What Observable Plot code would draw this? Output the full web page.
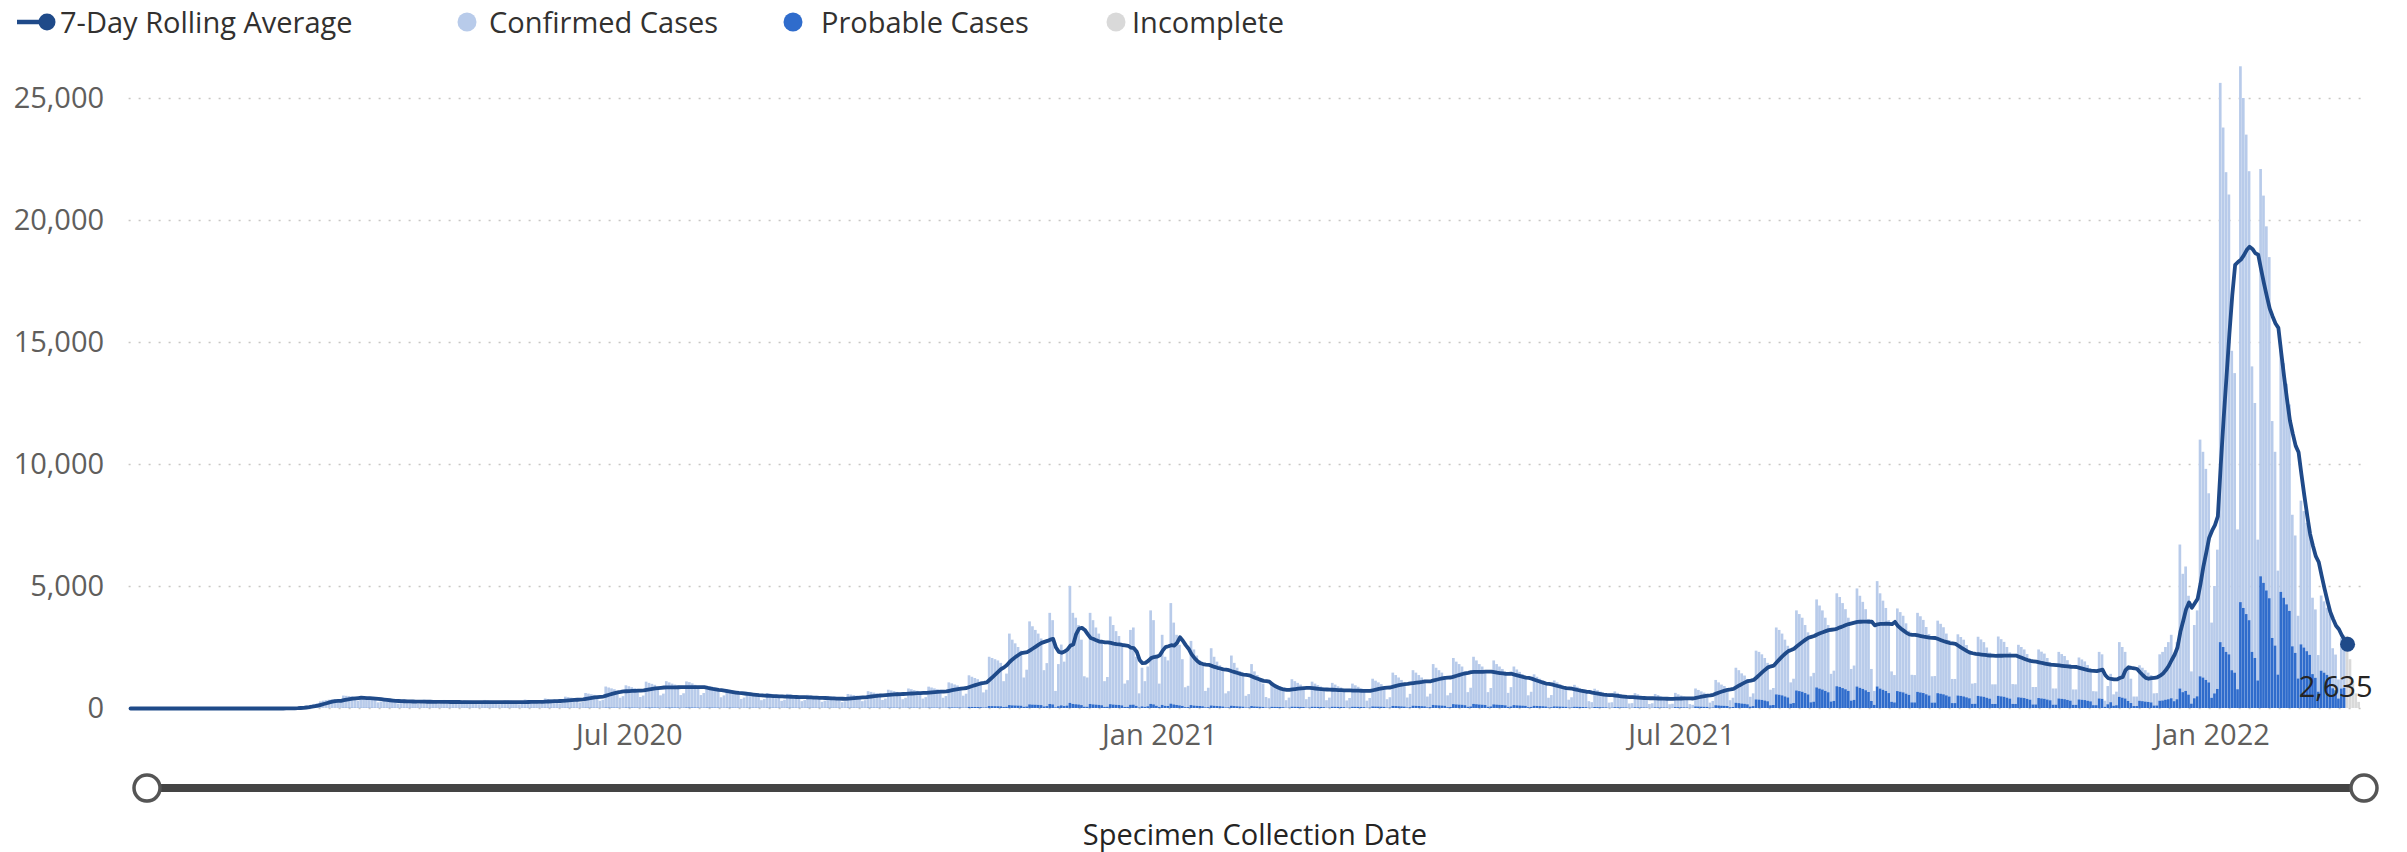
<!DOCTYPE html>
<html>
<head>
<meta charset="utf-8">
<script src="https://cdn.jsdelivr.net/npm/d3@7"></script>
<script src="https://cdn.jsdelivr.net/npm/@observablehq/plot@0.6"></script>
<style>
  body { margin: 0; background: #fff; font-family: "Open Sans", sans-serif; }
  #page { position: relative; width: 2407px; height: 852px; overflow: hidden; }
  #legend { position: relative; height: 46px; }
  .lg-mark { position: absolute; top: 0; }
  .lg-text { position: absolute; top: 0; height: 46px; line-height: 44px; font-size: 29px; color: #323130; white-space: nowrap; }
  #chart { height: 714px; }
  #slider { height: 58px; }
  #xtitle { height: 34px; line-height: 32px; font-size: 29px; color: #252423; position: relative; }
  #xtitle span { position: absolute; left: 1255px; transform: translateX(-50%); white-space: nowrap; }
</style>
</head>
<body>
<div id="page">
  <div id="legend"></div>
  <div id="chart"></div>
  <div id="slider"></div>
  <div id="xtitle"><span>Specimen Collection Date</span></div>
</div>
<script>
// ---------------- DATA ----------------
const startDate = "2020-01-10"; // first day of the series
// All cases per specimen-collection day (top of each stacked bar = confirmed + probable)
const allCases = [
  0,0,0,0,
  0,0,0,0,0,0,0,
  0,0,0,0,0,0,0,
  0,0,0,0,0,0,0,
  0,0,0,0,0,0,0,
  0,0,0,0,0,0,0,
  0,0,0,0,0,0,0,
  0,0,0,1,0,0,2,
  3,6,10,15,22,30,54,
  70,90,110,140,170,200,270,
  300,320,340,350,360,230,270,
  510,500,490,480,450,300,350,
  475,455,440,415,380,230,265,
  375,360,345,330,300,180,210,
  350,335,320,310,280,170,195,
  340,325,310,295,270,160,190,
  330,320,305,290,265,160,185,
  325,310,300,285,260,155,185,
  330,315,295,285,255,155,185,
  320,315,300,290,260,150,185,
  345,330,315,300,275,165,195,
  390,370,355,340,310,190,215,
  465,445,425,405,370,225,255,
  615,590,565,540,490,295,335,
  880,840,805,770,700,420,485,
  930,890,850,810,740,450,510,
  1080,1030,990,950,860,520,590,
  1100,1050,1000,960,880,530,605,
  1090,1060,1010,950,870,530,615,
  920,880,845,810,735,440,515,
  770,740,705,675,615,370,430,
  665,635,610,585,530,320,365,
  615,590,565,540,490,295,335,
  580,560,535,510,465,280,325,
  540,515,495,475,430,255,300,
  495,475,455,435,395,240,277,
  575,550,530,505,460,280,320,
  690,660,630,605,550,330,385,
  750,720,690,660,600,360,420,
  800,770,735,705,640,385,445,
  875,840,805,770,700,420,490,
  1050,1010,965,925,840,505,585,
  1340,1280,1230,1180,1070,640,750,
  2100,2050,2000,1950,1850,1100,1410,
  3050,2800,2650,2500,2350,1250,1570,
  3550,3350,3200,3050,2850,1550,1840,
  3900,3600,700,1800,2600,1900,2440,
  5000,3900,3700,3400,2800,1300,1250,
  3900,3600,3300,3050,2750,1100,1270,
  3750,3400,3150,2950,2600,1000,1140,
  3200,3300,2100,600,1650,1100,1700,
  4000,3600,2200,1000,3000,2100,1950,
  4300,3500,3000,2590,2000,850,910,
  2750,2400,2150,1950,1750,700,830,
  2450,2100,1900,1750,1500,600,690,
  2150,1850,1650,1500,1300,500,570,
  1800,1500,1350,1200,1000,450,400,
  1060,990,930,870,760,320,425,
  1180,1100,1030,960,850,360,456,
  1080,1000,940,880,780,320,425,
  1030,960,890,840,740,310,410,
  1000,930,870,810,720,300,410,
  1200,1120,1050,980,870,360,440,
  1450,1350,1250,1150,1000,430,580,
  1550,1450,1350,1250,1150,470,585,
  1800,1650,1550,1450,1300,520,620,
  2050,1900,1800,1700,1500,650,830,
  2100,1950,1800,1700,1550,650,820,
  1950,1800,1700,1600,1450,620,855,
  1700,1580,1480,1380,1250,520,665,
  1380,1280,1200,1120,1000,420,530,
  1130,1050,980,910,820,340,440,
  950,870,800,750,660,280,240,
  790,730,670,620,550,220,235,
  680,620,570,530,470,185,200,
  610,560,510,480,420,165,195,
  575,530,480,450,400,155,175,
  620,560,510,470,420,160,130,
  800,740,680,630,560,220,290,
  1150,1050,960,900,800,320,420,
  1650,1550,1420,1330,1180,460,600,
  2350,2300,2200,2050,1850,750,820,
  3300,3200,3050,2800,2550,1050,1200,
  4000,3850,3700,3400,3100,1300,1440,
  4450,4200,4000,3700,3400,1400,1530,
  4700,4550,4300,4050,3700,1600,1740,
  4900,4600,4350,4050,3650,1600,700,
  5200,4700,4400,4100,3600,1500,1350,
  4080,3930,3780,3470,3170,1360,1350,
  3900,3760,3610,3320,3030,1300,1310,
  3580,3450,3310,3050,2780,1190,1190,
  3020,2910,2800,2580,2350,1000,1020,
  2920,2810,2700,2480,2270,970,970,
  2930,2820,2710,2500,2280,980,970,
  2590,2500,2400,2210,2020,860,860,
  2400,2310,2230,2050,1870,800,800,
  2300,2210,2130,1960,1780,760,760,
  2070,1990,1910,1760,1610,690,680,
  2300,2200,300,900,1400,560,670,
  2700,2500,2300,1700,1200,470,470,
  1750,1650,1550,1450,1350,600,610,
  2200,2300,2500,2700,3000,2100,2700,
  6700,5500,5800,4600,1500,3400,4000,
  11000,10500,9800,8800,3500,5000,6490,
  25620,23790,21960,21045,14640,13725,7320,
  26300,25000,23500,22000,14000,12500,6900,
  22090,21000,19740,18480,11760,10500,5630,
  14870,14130,13290,12440,7920,7070,3780,
  8500,8070,7590,7110,4520,4040,2170,
  4610,4370,4110,3850,2450,2190,1170,
  2860,2970
];
// Probable cases per day (bottom, darker segment of each bar)
const probableCases = [
  0,0,0,0,
  0,0,0,0,0,0,0,
  0,0,0,0,0,0,0,
  0,0,0,0,0,0,0,
  0,0,0,0,0,0,0,
  0,0,0,0,0,0,0,
  0,0,0,0,0,0,0,
  0,0,0,0,0,0,0,
  0,0,0,0,0,0,0,
  0,0,0,0,0,0,0,
  0,0,0,0,0,0,0,
  8,8,8,8,7,5,5,
  8,8,7,7,6,4,4,
  6,6,6,6,5,3,4,
  6,6,5,5,5,3,3,
  6,6,5,5,5,3,3,
  6,5,5,5,4,3,3,
  6,6,5,5,5,3,3,
  6,6,5,5,4,3,3,
  6,6,5,5,5,3,3,
  7,6,6,6,5,3,3,
  8,7,7,6,6,4,4,
  9,9,8,8,7,4,5,
  12,12,11,10,10,6,7,
  18,17,16,15,14,8,10,
  19,18,17,16,15,9,10,
  22,21,20,19,17,10,12,
  22,21,20,19,18,11,12,
  22,21,20,19,17,11,12,
  18,18,17,16,15,9,10,
  15,15,14,13,12,7,9,
  13,13,12,12,11,6,7,
  12,12,11,11,10,6,7,
  12,11,11,10,9,6,6,
  11,10,10,9,9,5,6,
  10,9,9,9,8,5,6,
  12,11,11,10,9,6,6,
  14,13,13,12,11,7,8,
  15,14,14,13,12,7,8,
  16,15,15,14,13,8,9,
  18,17,16,15,14,8,10,
  26,25,24,23,21,12,14,
  45,43,41,39,36,21,25,
  80,78,75,73,70,40,52,
  120,110,105,100,95,50,62,
  150,140,135,128,120,65,77,
  165,150,30,75,110,80,100,
  210,165,155,145,120,55,52,
  165,150,140,128,115,46,53,
  158,143,132,124,109,42,48,
  135,139,88,25,69,46,71,
  168,151,92,42,126,88,82,
  180,147,126,109,84,36,38,
  120,100,90,82,73,29,35,
  105,90,80,75,63,25,29,
  95,80,72,65,56,21,24,
  80,66,59,53,44,20,18,
  50,46,43,40,35,15,20,
  55,51,48,45,40,17,21,
  52,48,45,42,37,15,20,
  52,48,45,42,37,16,21,
  52,48,45,42,37,16,21,
  65,60,57,53,47,19,24,
  85,79,73,67,59,25,34,
  95,88,82,76,70,29,36,
  125,115,108,101,91,36,43,
  160,148,140,133,117,51,65,
  168,156,144,136,124,52,66,
  150,139,131,124,112,48,66,
  120,111,104,97,88,37,47,
  90,83,78,73,65,27,34,
  68,63,59,55,49,20,26,
  52,48,44,41,36,15,13,
  40,37,34,31,28,11,12,
  34,31,29,27,24,9,10,
  31,28,26,24,21,8,10,
  29,27,24,23,20,8,9,
  37,34,31,28,25,10,8,
  64,59,54,50,45,18,23,
  115,105,96,90,80,32,42,
  215,200,185,173,153,60,78,
  352,345,330,308,278,113,123,
  560,545,520,476,434,179,204,
  720,693,666,612,558,234,259,
  845,798,760,703,646,266,291,
  893,865,817,770,703,304,331,
  882,828,783,729,657,288,126,
  884,799,748,697,612,255,230,
  694,668,643,590,539,231,230,
  663,639,614,564,515,221,223,
  609,587,563,519,473,202,202,
  513,495,476,439,400,170,173,
  496,478,459,422,386,165,165,
  498,479,461,425,388,167,165,
  440,425,408,376,343,146,146,
  408,393,379,349,318,136,136,
  391,376,362,333,303,129,129,
  352,338,325,299,274,117,116,
  391,374,51,153,238,95,114,
  459,425,391,289,204,80,80,
  298,281,264,247,230,102,104,
  300,310,340,360,400,280,360,
  800,650,700,550,180,400,480,
  1300,1250,1150,1050,420,600,780,
  2700,2500,2300,2200,1550,1450,770,
  4340,4100,3850,3600,2300,2050,1130,
  5400,5130,4820,4500,2870,2560,1370,
  4760,4520,4250,3980,2530,2260,1210,
  2610,2480,2330,2180,1390,1240,670,
  1530,1450,1360,1280,810,730,390,
  800,830
];
// Most recent days, still incomplete (grey bars)
const incompleteCases = [2955, 2000, 1100, 600, 250];
const yTicks = [0, 5000, 10000, 15000, 20000, 25000];
const xTicks = ["2020-07-01", "2021-01-01", "2021-07-01", "2022-01-01"];
const seriesNames = ["7-Day Rolling Average", "Confirmed Cases", "Probable Cases", "Incomplete"];
const seriesColors = ["#1f4a89", "#b8cbea", "#2f6ccc", "#d9d9d9"];

// ---------------- BUILD ----------------
const DAY = 864e5;
const t0 = Date.parse(startDate + "T00:00:00Z");
const dateOf = i => new Date(t0 + i * DAY);
const days = allCases.map((v, i) => ({date: dateOf(i), total: v, probable: probableCases[i]}));
const incomplete = incompleteCases.map((v, j) => ({date: dateOf(allCases.length + j), total: v}));
const rolling = days.map(d => ({date: d.date, total: d.total})).concat([incomplete[0]]);
const lastPoint = {date: rolling[rolling.length - 1].date, avg: d3.mean(rolling.slice(-7), d => d.total)};
const x1 = d => new Date(+d.date - DAY / 2);
const x2 = d => new Date(+d.date + DAY / 2);

// Legend
const legendPos = [[17, 60], [467, 489], [793, 821], [1116, 1132]];
const legend = d3.select("#legend");
seriesNames.forEach((name, i) => {
  const [mx, tx] = legendPos[i];
  if (i === 0) {
    const s = legend.append("svg").attr("class", "lg-mark").attr("width", 44).attr("height", 46).style("left", mx + "px");
    s.append("line").attr("x1", 0).attr("x2", 24).attr("y1", 22).attr("y2", 22).attr("stroke", seriesColors[0]).attr("stroke-width", 4.5);
    s.append("circle").attr("cx", 30).attr("cy", 22).attr("r", 8.5).attr("fill", seriesColors[0]);
  } else {
    const s = legend.append("svg").attr("class", "lg-mark").attr("width", 24).attr("height", 46).style("left", (mx - 12) + "px");
    s.append("circle").attr("cx", 12).attr("cy", 22).attr("r", 9.5).attr("fill", seriesColors[i]);
  }
  legend.append("div").attr("class", "lg-text").style("left", tx + "px").text(name);
});

const chart = Plot.plot({
  width: 2407,
  height: 714,
  marginLeft: 128.6,
  marginRight: 45.5,
  marginTop: 15.4,
  marginBottom: 52,
  style: {fontFamily: '"Open Sans", sans-serif', fontSize: "29px", color: "#605E5C", background: "transparent", overflow: "visible"},
  x: {type: "utc", domain: [dateOf(-0.5), dateOf(774)], ticks: xTicks.map(s => new Date(s + "T00:00:00Z")), tickFormat: d3.utcFormat("%b %Y"), tickSize: 0, tickPadding: 16, label: null},
  y: {domain: [0, 26500], ticks: yTicks, tickFormat: d3.format(","), tickSize: 0, tickPadding: 25, label: null},
  marks: [
    Plot.ruleY(yTicks, {stroke: "#c8c6c4", strokeWidth: 1.5, strokeDasharray: "2,8"}),
    Plot.rectY(days, {x1, x2, y1: "probable", y2: "total", fill: seriesColors[1], insetLeft: 0.1, insetRight: 0.1}),
    Plot.rectY(days, {x1, x2, y1: () => 0, y2: "probable", fill: seriesColors[2], insetLeft: 0.1, insetRight: 0.1}),
    Plot.rectY(incomplete, {x1, x2, y1: () => 0, y2: "total", fill: seriesColors[3], insetLeft: 0.1, insetRight: 0.1}),
    Plot.lineY(rolling, Plot.windowY({k: 7, anchor: "end", reduce: "mean"}, {x: "date", y: "total", stroke: seriesColors[0], strokeWidth: 3.8, strokeLinejoin: "round"})),
    Plot.dot([lastPoint], {x: "date", y: "avg", r: 7.5, fill: seriesColors[0]}),
    Plot.text([lastPoint], {x: "date", y: "avg", text: d => d3.format(",")(Math.round(d.avg)), dx: -12, dy: 44, fill: "#252423", fontSize: 29})
  ]
});
document.getElementById("chart").appendChild(chart);

// Range slider under the axis
const sl = d3.select("#slider").append("svg").attr("width", 2407).attr("height", 58);
sl.append("line").attr("x1", 147).attr("x2", 2364).attr("y1", 28).attr("y2", 28).attr("stroke", "#444").attr("stroke-width", 8);
[147, 2364].forEach(cx => {
  sl.append("circle").attr("cx", cx).attr("cy", 29).attr("r", 14).attr("fill", "#bbb").attr("opacity", 0.5);
  sl.append("circle").attr("cx", cx).attr("cy", 28).attr("r", 13).attr("fill", "#fff").attr("stroke", "#555").attr("stroke-width", 3.5);
});
</script>
</body>
</html>
